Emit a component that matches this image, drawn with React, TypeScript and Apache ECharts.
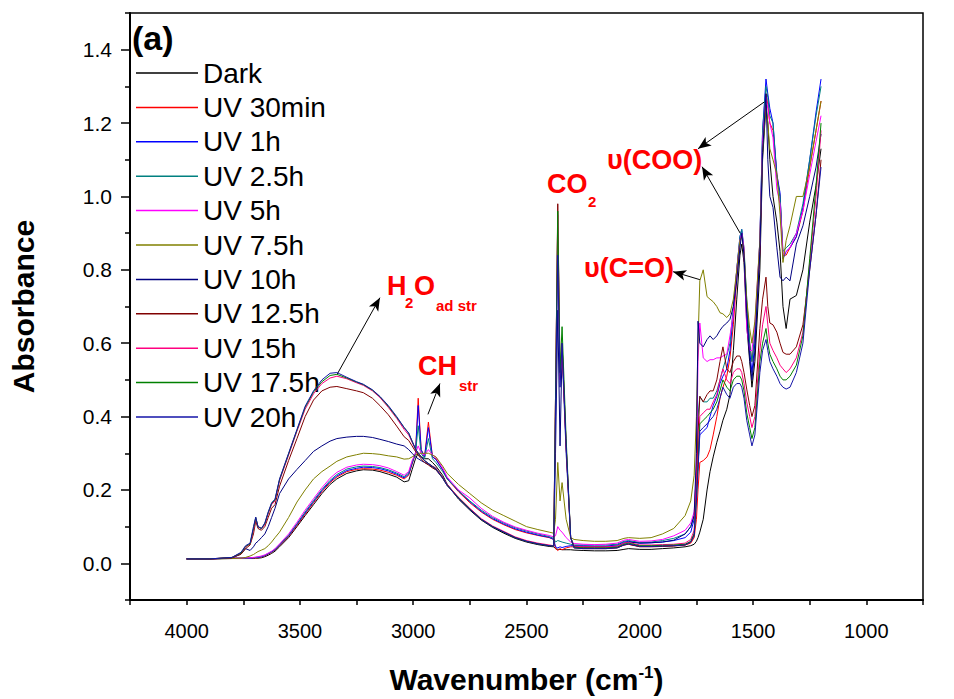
import React, { useEffect, useRef } from 'react';
import * as echarts from 'echarts';

// Wavenumber grid (cm-1) shared by all spectra
const wavenumbers = [
  // O-H band
  4000, 3900, 3800, 3760, 3740, 3720, 3705, 3695, 3685, 3670, 3655, 3640, 3625, 3610, 3590, 3550, 3513, 3477, 3440, 3403, 3367, 3337, 3293, 3250, 3220, 3180, 3147, 3110, 3073,
  // C-H region
  3040, 3020, 3005, 2990, 2978, 2965, 2950, 2933, 2915,
  // tail
  2900, 2870, 2850, 2800, 2750, 2700, 2650, 2600, 2550, 2500, 2450, 2400,
  // CO2
  2380, 2372, 2362, 2352, 2343, 2325, 2305, 2290,
  // baseline
  2250, 2200, 2150, 2100, 2070, 2050, 2000, 1950, 1900, 1850,
  // carbonyl / carboxylate region
  1800, 1775, 1760, 1750, 1743, 1735, 1720, 1703, 1690, 1676, 1660, 1646, 1633, 1616, 1602, 1587, 1572, 1558, 1550, 1540,
  1528, 1515, 1505, 1492, 1470, 1458, 1443, 1435, 1426, 1412, 1395, 1381, 1368, 1354, 1337, 1309, 1280, 1250, 1222, 1200,
];

const seriesNames = ['Dark', 'UV 30min', 'UV 1h', 'UV 2.5h', 'UV 5h', 'UV 7.5h', 'UV 10h', 'UV 12.5h', 'UV 15h', 'UV 17.5h', 'UV 20h'];
const seriesColors = ['#000000', '#FF0000', '#0000FF', '#008080', '#FF00FF', '#808000', '#000080', '#800000', '#FF0080', '#008000', '#1515A8'];

const yDark = [
  .012, .012, .013, .013, .013, .013, .013, .014, .014, .015, .018, .022, .027, .033, .045, .07, .10, .13, .16, .19, .215, .23, .245, .252, .255, .254, .25, .243, .235,
  .222, .225, .255, .285, .30, .29, .285, .285, .275,
  .265, .24, .215, .175, .145, .118, .098, .082, .068, .058, .051, .046,
  .045, .04, .038, .038, .037, .037, .037, .036,
  .035, .034, .034, .035, .038, .04, .038, .038, .04, .042,
  .045, .048, .052, .06, .07, .085, .12, .20, .25, .29, .33, .36, .39, .42, .46, .58, .72, .84, .87, .82,
  .65, .55, .48, .55, .80, 1.10, 1.25, 1.2, 1.1, 1.0, .93, .85, .70, .64, .72, .73, .80, .93, 1.03, 1.13,
];
const y30min = [
  .012, .012, .014, .014, .014, .014, .014, .015, .015, .017, .02, .025, .03, .036, .048, .073, .103, .134, .165, .195, .22, .235, .25, .256, .258, .257, .254, .248, .24,
  .23, .24, .27, .30, .45, .31, .29, .385, .29,
  .285, .255, .23, .195, .165, .14, .12, .105, .092, .083, .076, .07,
  .065, .04, .035, .04, .037, .042, .045, .045,
  .043, .042, .042, .043, .05, .052, .046, .046, .047, .048,
  .05, .055, .07, .12, .20, .275, .28, .29, .31, .35, .40, .45, .48, .51, .56, .65, .78, .88, .90, .84,
  .70, .60, .55, .62, .85, 1.15, 1.28, 1.25, 1.2, 1.18, 1.06, 1.0, .84, .84, .86, .89, .96, 1.08, 1.18, 1.26,
];
const y1h = [
  .012, .012, .014, .014, .014, .014, .015, .016, .016, .018, .021, .026, .031, .037, .05, .075, .106, .137, .168, .198, .223, .238, .253, .259, .262, .261, .258, .252, .243,
  .233, .243, .272, .30, .43, .31, .29, .37, .29,
  .283, .255, .232, .197, .168, .142, .122, .107, .094, .085, .077, .071,
  .065, .045, .042, .045, .043, .046, .048, .048,
  .048, .047, .047, .05, .058, .06, .055, .056, .058, .062,
  .07, .085, .12, .2, .27, .35, .36, .37, .40, .43, .455, .49, .51, .53, .58, .68, .80, .89, .91, .85,
  .70, .58, .52, .60, .88, 1.18, 1.32, 1.28, 1.24, 1.2, 1.06, 1.01, .83, .85, .86, .89, .97, 1.10, 1.23, 1.32,
];
const y2_5h = [
  .012, .012, .014, .014, .014, .015, .015, .016, .017, .019, .022, .027, .032, .038, .051, .077, .108, .14, .171, .201, .226, .242, .257, .263, .265, .264, .261, .255, .246,
  .236, .246, .275, .30, .375, .30, .285, .34, .285,
  .275, .25, .23, .198, .17, .145, .125, .11, .097, .088, .08, .073,
  .068, .058, .062, .06, .058, .055, .052, .05,
  .05, .05, .05, .052, .06, .062, .057, .058, .062, .068,
  .08, .10, .13, .25, .40, .455, .44, .44, .45, .45, .47, .50, .53, .565, .60, .70, .80, .89, .91, .86,
  .72, .60, .55, .63, .88, 1.18, 1.30, 1.27, 1.22, 1.2, 1.05, 1.0, .85, .86, .87, .90, .98, 1.10, 1.22, 1.30,
];
const y5h = [
  .012, .012, .014, .014, .015, .015, .016, .017, .018, .02, .023, .028, .033, .04, .053, .08, .112, .145, .176, .206, .232, .248, .262, .268, .27, .269, .266, .26, .25,
  .24, .25, .28, .30, .32, .30, .295, .31, .295,
  .29, .26, .235, .20, .178, .15, .128, .112, .099, .09, .082, .076,
  .072, .075, .10, .09, .085, .07, .058, .054,
  .052, .051, .052, .055, .063, .065, .06, .061, .065, .075,
  .09, .11, .14, .25, .55, .655, .56, .55, .555, .555, .56, .56, .565, .57, .62, .68, .80, .88, .90, .86,
  .64, .58, .58, .65, .88, 1.15, 1.27, 1.24, 1.2, 1.16, 1.02, .98, .84, .85, .86, .90, .96, 1.06, 1.15, 1.22,
];
const y7_5h = [
  .012, .012, .013, .014, .016, .02, .024, .028, .032, .036, .04, .048, .058, .07, .085, .125, .167, .20, .23, .25, .265, .278, .29, .296, .30, .299, .297, .293, .29,
  .284, .285, .29, .295, .30, .30, .30, .30, .295,
  .29, .265, .245, .215, .19, .165, .145, .13, .115, .10, .092, .085,
  .082, .12, .275, .17, .22, .12, .07, .065,
  .062, .06, .06, .062, .068, .07, .068, .07, .08, .095,
  .13, .17, .24, .40, .60, .77, .80, .727, .72, .713, .70, .683, .68, .67, .68, .72, .80, .88, .89, .85,
  .72, .64, .60, .66, .88, 1.12, 1.25, 1.2, 1.13, 1.10, 1.06, .95, .82, .88, .92, 1.0, 1.0, 1.08, 1.18, 1.26,
];
const y10h = [
  .012, .012, .015, .025, .04, .035, .045, .055, .06, .07, .08, .10, .125, .15, .19, .23, .256, .28, .305, .32, .333, .34, .344, .346, .346, .343, .338, .332, .325,
  .32, .31, .30, .29, .285, .28, .275, .27, .262,
  .255, .235, .215, .178, .148, .12, .10, .085, .07, .06, .053, .048,
  .047, .30, .69, .32, .58, .30, .07, .047,
  .045, .045, .045, .047, .055, .058, .055, .056, .058, .063,
  .08, .10, .13, .30, .66, .60, .59, .61, .62, .61, .62, .635, .646, .655, .665, .70, .77, .86, .90, .84,
  .68, .56, .50, .58, .85, 1.12, 1.28, 1.1, 1.0, .97, .86, .78, .77, .78, .77, .87, .92, 1.0, 1.08, 1.17,
];
const y12_5h = [
  .012, .012, .015, .025, .04, .05, .08, .115, .095, .09, .10, .125, .15, .16, .21, .28, .34, .40, .445, .47, .48, .482, .476, .47, .465, .45, .43, .405, .374,
  .345, .335, .32, .305, .295, .285, .275, .268, .26,
  .255, .232, .212, .178, .148, .12, .10, .085, .07, .06, .053, .048,
  .047, .45, .98, .52, .60, .32, .07, .042,
  .04, .04, .04, .042, .05, .052, .045, .045, .046, .047,
  .05, .058, .08, .2, .35, .455, .44, .46, .47, .47, .50, .55, .59, .53, .52, .55, .565, .565, .55, .52,
  .475, .43, .40, .43, .64, .72, .78, .70, .655, .65, .63, .60, .575, .57, .57, .59, .65, .80, .95, 1.10,
];
const y15h = [
  .012, .012, .016, .028, .045, .052, .09, .122, .10, .095, .105, .135, .16, .17, .225, .295, .36, .42, .462, .49, .505, .51, .503, .492, .485, .47, .452, .425, .395,
  .365, .35, .33, .31, .30, .29, .28, .272, .265,
  .26, .235, .215, .18, .15, .122, .102, .087, .072, .062, .055, .05,
  .048, .45, .95, .50, .60, .32, .07, .047,
  .045, .045, .045, .047, .055, .057, .05, .05, .051, .052,
  .055, .065, .09, .2, .30, .40, .41, .42, .42, .44, .46, .50, .53, .50, .49, .52, .53, .53, .52, .49,
  .44, .40, .37, .40, .58, .65, .70, .65, .60, .58, .56, .54, .53, .52, .53, .56, .63, .82, 1.0, 1.18,
];
const y17_5h = [
  .012, .012, .016, .028, .046, .053, .095, .125, .10, .095, .108, .138, .163, .173, .228, .298, .363, .425, .467, .495, .512, .515, .505, .494, .487, .472, .454, .428, .398,
  .37, .355, .333, .312, .30, .29, .28, .272, .264,
  .258, .233, .213, .178, .148, .12, .10, .085, .07, .06, .053, .048,
  .047, .45, .96, .52, .645, .34, .07, .044,
  .042, .042, .042, .044, .052, .055, .048, .048, .049, .05,
  .052, .06, .08, .18, .27, .38, .39, .40, .41, .42, .44, .47, .50, .48, .47, .50, .51, .51, .50, .47,
  .41, .37, .34, .37, .55, .60, .64, .60, .57, .55, .53, .51, .50, .50, .51, .54, .62, .83, 1.03, 1.20,
];
const y20h = [
  .012, .012, .016, .03, .048, .055, .10, .126, .10, .095, .11, .14, .165, .175, .23, .30, .365, .428, .47, .50, .518, .52, .507, .495, .488, .473, .455, .43, .40,
  .37, .355, .333, .312, .30, .29, .28, .272, .264,
  .257, .232, .212, .177, .147, .12, .10, .085, .07, .06, .053, .048,
  .047, .40, .84, .48, .60, .32, .07, .042,
  .04, .04, .04, .042, .05, .053, .046, .046, .047, .048,
  .05, .058, .075, .17, .25, .36, .37, .38, .39, .40, .42, .45, .48, .46, .45, .48, .49, .49, .48, .45,
  .39, .35, .32, .35, .52, .58, .61, .58, .55, .53, .51, .49, .48, .475, .48, .52, .60, .80, .95, 1.08,
];

const allY = [yDark, y30min, y1h, y2_5h, y5h, y7_5h, y10h, y12_5h, y15h, y17_5h, y20h];

// Arrow annotations: [from wavenumber, from absorbance, to wavenumber, to absorbance]
const arrows = [
  [3336, 0.515, 3147, 0.724],
  [2935, 0.406, 2882, 0.49],
  [1438, 1.263, 1743, 1.13],
  [1557, 0.90, 1725, 1.081],
  [1734, 0.773, 1853, 0.795],
];

const FONT = 'Liberation Sans, Arial, Helvetica, sans-serif';

export default function App() {
  const ref = useRef<HTMLDivElement>(null);
  useEffect(() => {
    document.body.style.margin = '0';
    const chart = echarts.init(ref.current!, null, { renderer: 'svg' });
    const red = '#FF0000';
    const big = { fontFamily: FONT, fontWeight: 'bold' as const, fontSize: 27 };
    const small = { fontFamily: FONT, fontWeight: 'bold' as const, fontSize: 15 };
    const txt = (text: string, x: number, y: number, st: any, color = red) => ({
      type: 'text', x, y, silent: true,
      style: { text, fill: color, verticalAlign: 'middle', align: 'left', font: `${st.fontWeight} ${st.fontSize}px ${st.fontFamily}` },
    });

    const series: any[] = seriesNames.map((name, i) => ({
      name,
      type: 'line',
      data: wavenumbers.map((w, k) => [w, allY[i][k]]),
      showSymbol: false,
      symbol: 'none',
      lineStyle: { width: 1, color: seriesColors[i] },
      itemStyle: { color: seriesColors[i] },
      z: 2 + i,
    }));
    series[0].markLine = {
      silent: true,
      symbol: ['none', 'arrow'],
      symbolSize: [8, 13],
      label: { show: false },
      lineStyle: { color: '#000', width: 1, type: 'solid' },
      data: arrows.map(a => [{ coord: [a[0], a[1]] }, { coord: [a[2], a[3]] }]),
    };

    chart.setOption({
      animation: false,
      grid: { left: 130, right: 31, top: 13, bottom: 98, show: true, borderColor: '#000', borderWidth: 1.5, backgroundColor: 'transparent' },
      legend: {
        orient: 'vertical', left: 131, top: 54, icon: 'rect', itemWidth: 62, itemHeight: 1.5, itemGap: 6.4,
        textStyle: { fontFamily: FONT, fontSize: 28, lineHeight: 28, color: '#000' },
        data: seriesNames,
      },
      xAxis: {
        type: 'value', inverse: true, min: 750, max: 4250, interval: 250,
        name: '{a|Wavenumber (cm}{b|-1}{a|)}', nameLocation: 'middle', nameGap: 64,
        nameTextStyle: {
          rich: {
            a: { fontFamily: FONT, fontWeight: 'bold', fontSize: 30, color: '#000' },
            b: { fontFamily: FONT, fontWeight: 'bold', fontSize: 17, color: '#000', verticalAlign: 'top' },
          },
        },
        axisLine: { onZero: false, lineStyle: { color: '#000', width: 2 } },
        axisTick: { length: 5, lineStyle: { color: '#000', width: 1.5 } },
        axisLabel: {
          margin: 21, fontFamily: FONT, fontSize: 20, color: '#000',
          formatter: (v: number) => (Math.round(v) % 500 === 0 && v >= 1000 && v <= 4000 ? String(Math.round(v)) : ''),
        },
        splitLine: { show: false },
      },
      yAxis: [
        {
          type: 'value', min: -0.1, max: 1.5, interval: 0.1,
          name: 'Absorbance', nameLocation: 'middle', nameGap: 92, nameRotate: 90,
          nameTextStyle: { fontFamily: FONT, fontWeight: 'bold', fontSize: 30, color: '#000' },
          axisLine: { show: true, onZero: false, lineStyle: { color: '#000', width: 2 } },
          axisTick: { show: false },
          axisLabel: {
            margin: 18, fontFamily: FONT, fontSize: 21, color: '#000',
            formatter: (v: number) => {
              const k = Math.round(v * 10);
              return k % 2 === 0 && k >= 0 && k <= 14 ? (k / 10).toFixed(1) : '';
            },
          },
          splitLine: { show: false },
        },
        {
          type: 'value', position: 'left', min: -0.1, max: 1.5, interval: 0.2,
          axisLine: { show: false, onZero: false },
          axisTick: { show: true, length: 5, lineStyle: { color: '#000', width: 1.5 } },
          minorTick: { show: true, splitNumber: 2, length: 9, lineStyle: { color: '#000', width: 1.5 } },
          axisLabel: { show: false },
          splitLine: { show: false },
          minorSplitLine: { show: false },
        },
      ],
      series,
      graphic: [
        txt('(a)', 132, 38, { fontWeight: 'bold', fontSize: 34, fontFamily: FONT }, '#000'),
        txt('H', 387, 286, big), txt('2', 405, 302, small), txt('O', 414, 286, big), txt('ad str', 436, 305, small),
        txt('CH', 418, 366, big), txt('str', 459, 385, small),
        txt('CO', 547, 184, big), txt('2', 588, 201, small),
        txt('\u03c5(COO)', 607, 160, big),
        txt('\u03c5(C=O)', 584, 268, big),
      ],
    });
    return () => chart.dispose();
  }, []);
  return <div ref={ref} style={{ width: 954, height: 699 }} />;
}
